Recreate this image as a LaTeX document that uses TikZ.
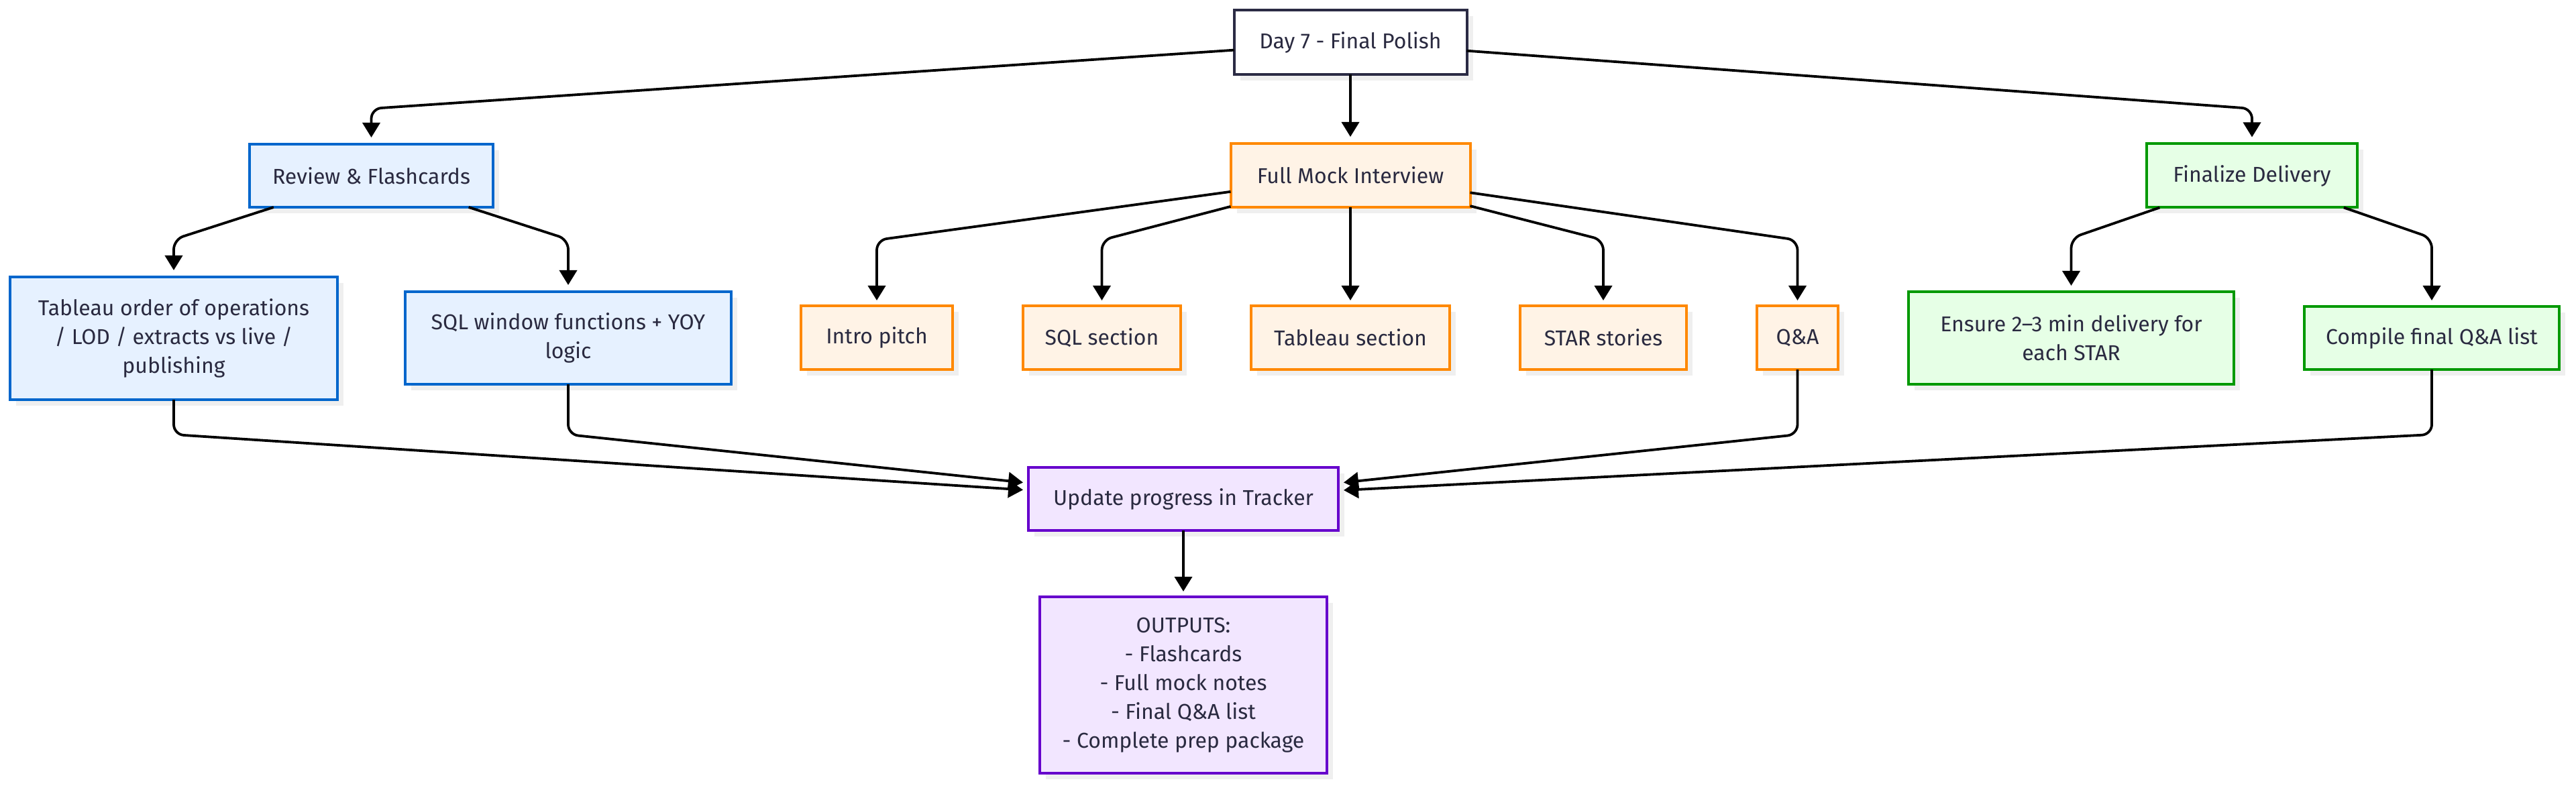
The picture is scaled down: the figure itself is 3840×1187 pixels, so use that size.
\documentclass[tikz,border=0pt]{standalone}
\usepackage{fontspec}
\setmainfont{Fira Sans}
\usetikzlibrary{arrows.meta,shadows}
\definecolor{txt}{HTML}{2A2A40}
\definecolor{shadowgray}{HTML}{EFEFEF}
\definecolor{topline}{HTML}{2B2B44}
\definecolor{blueline}{HTML}{0066CC}
\definecolor{bluefill}{HTML}{E6F1FF}
\definecolor{orangeline}{HTML}{FF8800}
\definecolor{orangefill}{HTML}{FFF3E6}
\definecolor{greenline}{HTML}{009900}
\definecolor{greenfill}{HTML}{E6FFE6}
\definecolor{purpleline}{HTML}{6600CC}
\definecolor{purplefill}{HTML}{F2E6FF}
\begin{document}
\begin{tikzpicture}[x=0.5pt,y=-0.5pt,
  box/.style={draw, line width=2pt, inner sep=0pt, outer sep=0pt, align=center,
    font=\fontsize{16}{21.5}\selectfont, text=txt,
    drop shadow={shadow xshift=4.5pt,shadow yshift=-4.5pt,fill=shadowgray,opacity=1}},
  topbox/.style={box, draw=topline, fill=white},
  bluebox/.style={box, draw=blueline, fill=bluefill},
  orangebox/.style={box, draw=orangeline, fill=orangefill},
  greenbox/.style={box, draw=greenline, fill=greenfill},
  purplebox/.style={box, draw=purpleline, fill=purplefill},
  conn/.style={draw=black, line width=1.9pt, rounded corners=7.5pt,
    -{Triangle[length=11pt,width=13pt]}}
]
\useasboundingbox (0,0) rectangle (3840,1187);
\fill[white] (0,0) rectangle (3840,1187);

% nodes
\node[topbox, minimum width=173.5pt, minimum height=48pt] (day) at (2013,63) {Day 7 - Final Polish};

\node[bluebox, minimum width=181.5pt, minimum height=47pt] (review) at (553.5,262) {Review \& Flashcards};
\node[orangebox, minimum width=178.5pt, minimum height=47.5pt] (mock) at (2013,261.5) {Full Mock Interview};
\node[greenbox, minimum width=157pt, minimum height=47.5pt] (final) at (3357,262) {Finalize Delivery};

\node[bluebox, minimum width=244pt, minimum height=91.5pt] (tab) at (259,504.5) {Tableau order of operations\\/ LOD / extracts vs live /\\publishing};
\node[bluebox, minimum width=243pt, minimum height=69pt] (sqlw) at (847,504) {SQL window functions + YOY\\logic};

\node[orangebox, minimum width=113pt, minimum height=47.5pt] (intro) at (1307,503.5) {Intro pitch};
\node[orangebox, minimum width=117.5pt, minimum height=47.5pt] (sqls) at (1642.5,503.5) {SQL section};
\node[orangebox, minimum width=148pt, minimum height=47.5pt] (tabs) at (2013,503.5) {Tableau section};
\node[orangebox, minimum width=124pt, minimum height=47.5pt] (star) at (2390,503.5) {STAR stories};
\node[orangebox, minimum width=60.5pt, minimum height=47.5pt] (qa) at (2679.5,503.5) {Q\&A};

\node[greenbox, minimum width=242.5pt, minimum height=69pt] (ens) at (3087.5,504) {Ensure 2–3 min delivery for\\each STAR};
\node[greenbox, minimum width=190pt, minimum height=47pt] (comp) at (3625,504) {Compile final Q\&A list};

\node[purplebox, minimum width=231pt, minimum height=47pt] (upd) at (1764,744) {Update progress in Tracker};
\node[purplebox, minimum width=214pt, minimum height=131.5pt] (out) at (1764,1021.5) {OUTPUTS:\\- Flashcards\\- Full mock notes\\- Final Q\&A list\\- Complete prep package};

% connectors
\draw[conn] (day) -- (553.5,162) -- ([yshift=5pt]review.north);
\draw[conn] (day) -- ([yshift=5pt]mock.north);
\draw[conn] (day) -- (3357,162) -- ([yshift=5pt]final.north);

\draw[conn] (review) -- (259,357) -- ([yshift=5pt]tab.north);
\draw[conn] (review) -- (847,357) -- ([yshift=5pt]sqlw.north);

\draw[conn] (mock) -- (1307,358) -- ([yshift=4pt]intro.north);
\draw[conn] (mock) -- (1642.5,358) -- ([yshift=4pt]sqls.north);
\draw[conn] (mock) -- ([yshift=4pt]tabs.north);
\draw[conn] (mock) -- (2390,358) -- ([yshift=4pt]star.north);
\draw[conn] (mock) -- (2679.5,358) -- ([yshift=4pt]qa.north);

\draw[conn] (final) -- (3087.5,355) -- ([yshift=4.5pt]ens.north);
\draw[conn] (final) -- (3625,355) -- ([yshift=4.5pt]comp.north);

\draw[conn] (tab) -- (259,648) -- ([xshift=-4pt,yshift=6.75pt]upd.west);
\draw[conn] (sqlw) -- (847,648) -- ([xshift=-4pt,yshift=12.25pt]upd.west);
\draw[conn] (qa) -- (2679.5,648) -- ([xshift=4pt,yshift=12.25pt]upd.east);
\draw[conn] (comp) -- (3625,648) -- ([xshift=4pt,yshift=6.5pt]upd.east);

\draw[conn] (upd) -- ([yshift=4pt]out.north);
\end{tikzpicture}
\end{document}
